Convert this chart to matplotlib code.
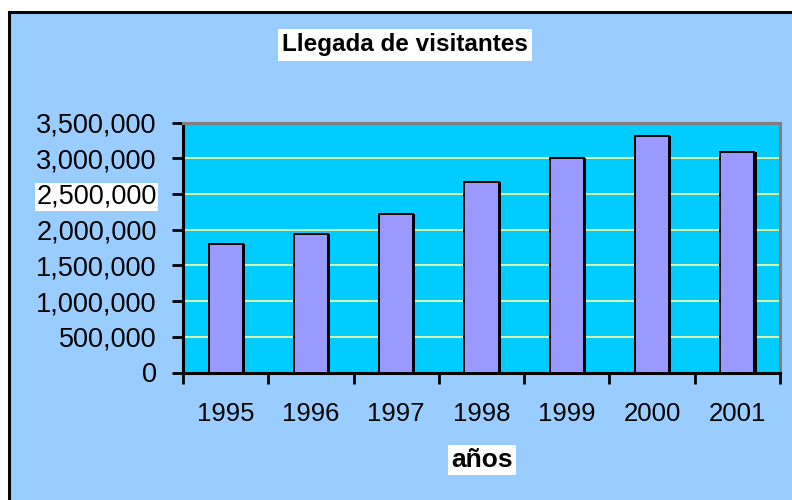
import matplotlib
matplotlib.use("Agg")
import matplotlib.pyplot as plt
import matplotlib.patheffects as pe
from matplotlib.patches import Rectangle
from matplotlib.ticker import FuncFormatter, MultipleLocator

years = ["1995", "1996", "1997", "1998", "1999", "2000", "2001"]
visitors = [1795000, 1935000, 2215000, 2663000, 3000000, 3312000, 3084000]

plt.rcParams['font.family'] = ['Liberation Sans', 'DejaVu Sans']

fig = plt.figure(figsize=(7.92, 5.0), dpi=100)
fig.patch.set_facecolor("white")

# outer chart area with black border (left/top visible)
W, H = 792, 500
border = Rectangle((9.0 / W, -0.05), 1.2, (500 - 11.5) / H + 0.05,
                   transform=fig.transFigure, facecolor="#99CCFF",
                   edgecolor="black", linewidth=2.2, zorder=-10)
fig.patches.append(border)

ax = fig.add_axes([183 / W, 1 - 372.5 / H, (780 - 183) / W, (372.5 - 122.5) / H])
ax.set_facecolor("#00CCFF")

x = list(range(len(years)))
bars = ax.bar(x, visitors, width=0.4, color="#9999FF", edgecolor="black",
              linewidth=1.4, zorder=3)
for b in bars:
    b.set_path_effects([pe.SimplePatchShadow(offset=(1.6, 0), shadow_rgbFace="black", alpha=1.0),
                        pe.Normal()])

ax.set_xlim(-0.5, len(years) - 0.5)
ax.set_ylim(0, 3500000)
ax.yaxis.set_major_locator(MultipleLocator(500000))
ax.yaxis.set_major_formatter(FuncFormatter(lambda v, p: f"{int(v):,}"))
ax.grid(axis="y", color="#FFFF99", linewidth=1.2, zorder=1)
ax.set_axisbelow(True)

ax.set_xticks([i - 0.5 for i in range(len(years) + 1)])
ax.set_xticklabels([])
ax.set_xticks(x, minor=True)
ax.set_xticklabels(years, minor=True)
ax.tick_params(axis="x", which="major", direction="out", length=8, width=2, color="black")
ax.tick_params(axis="x", which="minor", length=0, pad=21, labelsize=18.5)
ax.tick_params(axis="y", direction="out", length=8, width=2, color="black",
               pad=11, labelsize=19.5)

for side in ("left", "bottom"):
    ax.spines[side].set_color("black")
    ax.spines[side].set_linewidth(2.2)
for side in ("top", "right"):
    ax.spines[side].set_color("#808080")
    ax.spines[side].set_linewidth(2.2)

fig.canvas.draw()
for lbl in ax.get_yticklabels():
    if lbl.get_text() == "2,500,000":
        lbl.set_bbox(dict(facecolor="white", edgecolor="none", pad=1))

fig.text(405 / W, 1 - 45 / H, "Llegada de visitantes", ha="center", va="center",
         fontsize=17.5, fontweight="bold",
         bbox=dict(facecolor="white", edgecolor="none", pad=3))
fig.text(482 / W, 1 - 460 / H, "años", ha="center", va="center",
         fontsize=19, fontweight="bold",
         bbox=dict(facecolor="white", edgecolor="none", pad=2))

fig.savefig("out.png", dpi=100, facecolor=fig.get_facecolor())
